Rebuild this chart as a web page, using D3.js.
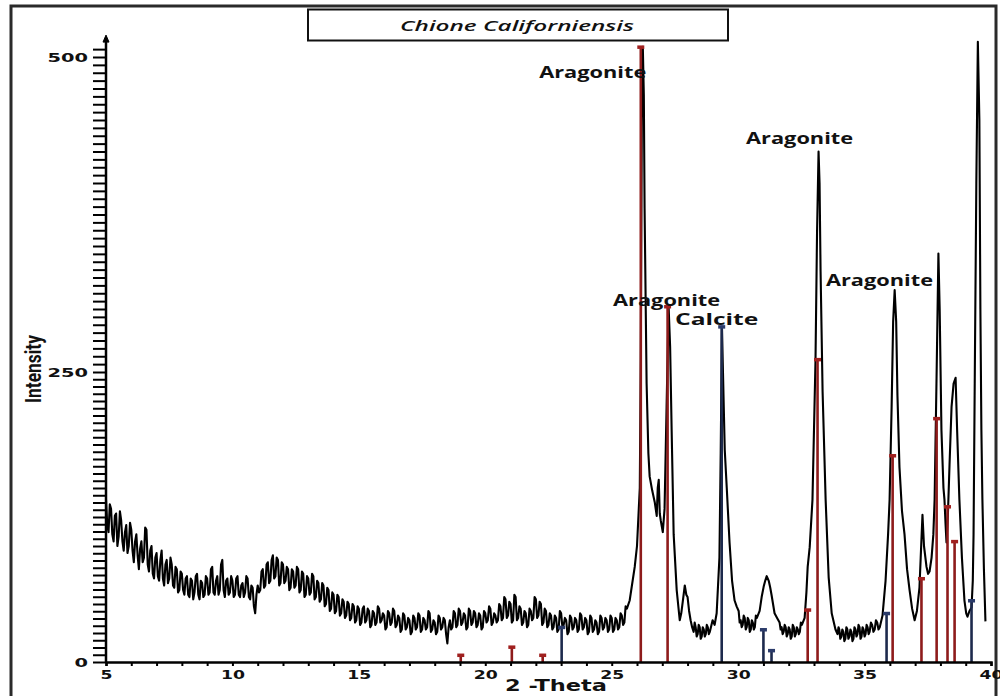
<!DOCTYPE html>
<html>
<head>
<meta charset="utf-8">
<script src="https://cdn.jsdelivr.net/npm/d3@7"></script>
<style>
  html, body { margin: 0; padding: 0; background: #fff; }
  svg { display: block; }
</style>
</head>
<body>
<svg id="chart" width="1000" height="696"></svg>
<script>
// ---------------- DATA ----------------
const chartTitle = "Chione Californiensis";
const xLabel = "2 -Theta";
const yLabel = "Intensity";
const xTickValues = [5, 10, 15, 20, 25, 30, 35, 40];
const yTickValues = [0, 250, 500];

// XRD scan: [2-theta, intensity]
const scan = [
  [5.0,140],[5.05,118],[5.1,112],[5.15,136],[5.2,132],[5.25,110],[5.3,104],[5.35,126],[5.4,128],[5.45,100],
  [5.5,108],[5.55,130],[5.6,122],[5.65,104],[5.7,96],[5.75,112],[5.8,118],[5.85,94],[5.9,100],[5.95,120],
  [6.0,114],[6.05,96],[6.1,86],[6.15,104],[6.2,110],[6.25,92],[6.3,80],[6.35,98],[6.4,104],[6.45,86],
  [6.5,90],[6.55,116],[6.6,114],[6.65,84],[6.7,78],[6.75,96],[6.8,100],[6.85,76],[6.9,72],[6.95,90],
  [7.0,94],[7.05,74],[7.1,70],[7.15,88],[7.2,96],[7.25,72],[7.3,66],[7.35,84],[7.4,88],[7.45,68],
  [7.5,72],[7.55,90],[7.6,84],[7.65,66],[7.7,64],[7.75,82],[7.8,80],[7.85,60],[7.9,62],[7.95,78],
  [8.0,76],[8.05,62],[8.1,58],[8.15,72],[8.2,74],[8.25,58],[8.3,56],[8.35,72],[8.4,70],[8.45,54],
  [8.5,60],[8.55,74],[8.6,76],[8.65,58],[8.7,54],[8.75,70],[8.8,68],[8.85,56],[8.9,58],[8.95,74],
  [9.0,72],[9.05,58],[9.1,60],[9.15,80],[9.2,82],[9.25,60],[9.3,58],[9.35,70],[9.4,74],[9.45,58],
  [9.5,62],[9.55,84],[9.6,88],[9.65,62],[9.7,56],[9.75,70],[9.8,72],[9.85,58],[9.9,60],[9.95,74],
  [10.0,70],[10.05,56],[10.1,58],[10.15,72],[10.2,74],[10.25,58],[10.3,56],[10.35,66],[10.4,68],[10.45,56],
  [10.5,60],[10.55,74],[10.6,72],[10.65,56],[10.7,54],[10.75,66],[10.8,64],[10.85,48],[10.9,42],[10.95,58],
  [11.0,66],[11.05,60],[11.1,62],[11.15,78],[11.2,80],[11.25,64],[11.3,66],[11.35,84],[11.4,86],[11.45,68],
  [11.5,70],[11.55,88],[11.6,92],[11.65,72],[11.7,74],[11.75,90],[11.8,88],[11.85,66],[11.9,68],[11.95,86],
  [12.0,84],[12.05,68],[12.1,70],[12.15,82],[12.2,80],[12.25,62],[12.3,64],[12.35,80],[12.4,78],[12.45,64],
  [12.5,66],[12.55,82],[12.6,80],[12.65,60],[12.7,62],[12.75,78],[12.8,76],[12.85,56],[12.9,58],[12.95,74],
  [13.0,72],[13.05,58],[13.1,60],[13.15,76],[13.2,74],[13.25,54],[13.3,56],[13.35,70],[13.4,68],[13.45,52],
  [13.5,54],[13.55,68],[13.6,66],[13.65,48],[13.7,50],[13.75,64],[13.8,62],[13.85,44],[13.9,46],[13.95,60],
  [14.0,58],[14.05,42],[14.1,44],[14.15,58],[14.2,56],[14.25,40],[14.3,42],[14.35,54],[14.4,52],[14.45,38],
  [14.5,40],[14.55,52],[14.6,50],[14.65,36],[14.7,38],[14.75,50],[14.8,48],[14.85,34],[14.9,36],[14.95,48],
  [15.0,46],[15.05,32],[15.1,34],[15.15,46],[15.2,48],[15.25,34],[15.3,36],[15.35,46],[15.4,44],[15.45,30],
  [15.5,32],[15.55,44],[15.6,42],[15.65,32],[15.7,34],[15.75,48],[15.8,46],[15.85,34],[15.9,36],[15.95,42],
  [16.0,40],[16.05,28],[16.1,30],[16.15,44],[16.2,42],[16.25,32],[16.3,34],[16.35,46],[16.4,44],[16.45,30],
  [16.5,32],[16.55,40],[16.6,38],[16.65,26],[16.7,28],[16.75,42],[16.8,40],[16.85,28],[16.9,30],[16.95,38],
  [17.0,36],[17.05,24],[17.1,26],[17.15,40],[17.2,38],[17.25,28],[17.3,30],[17.35,42],[17.4,40],[17.45,26],
  [17.5,28],[17.55,38],[17.6,36],[17.65,28],[17.7,30],[17.75,44],[17.8,42],[17.85,26],[17.9,28],[17.95,36],
  [18.0,34],[18.05,24],[18.1,26],[18.15,40],[18.2,38],[18.25,28],[18.3,30],[18.35,38],[18.4,36],[18.45,24],
  [18.5,16],[18.55,30],[18.6,36],[18.65,28],[18.7,30],[18.75,44],[18.8,42],[18.85,30],[18.9,32],[18.95,46],
  [19.0,44],[19.05,32],[19.1,34],[19.15,42],[19.2,40],[19.25,28],[19.3,30],[19.35,46],[19.4,44],[19.45,32],
  [19.5,34],[19.55,44],[19.6,42],[19.65,30],[19.7,32],[19.75,42],[19.8,40],[19.85,28],[19.9,30],[19.95,44],
  [20.0,42],[20.05,34],[20.1,36],[20.15,48],[20.2,46],[20.25,32],[20.3,34],[20.35,42],[20.4,40],[20.45,34],
  [20.5,36],[20.55,50],[20.6,48],[20.65,36],[20.7,38],[20.75,56],[20.8,54],[20.85,38],[20.9,40],[20.95,52],
  [21.0,50],[21.05,34],[21.1,36],[21.15,58],[21.2,56],[21.25,36],[21.3,38],[21.35,48],[21.4,46],[21.45,32],
  [21.5,34],[21.55,44],[21.6,42],[21.65,30],[21.7,32],[21.75,46],[21.8,44],[21.85,36],[21.9,38],[21.95,56],
  [22.0,54],[22.05,38],[22.1,40],[22.15,52],[22.2,50],[22.25,32],[22.3,34],[22.35,46],[22.4,44],[22.45,30],
  [22.5,32],[22.55,42],[22.6,40],[22.65,28],[22.7,30],[22.75,40],[22.8,38],[22.85,26],[22.9,28],[22.95,44],
  [23.0,42],[23.05,30],[23.1,32],[23.15,38],[23.2,36],[23.25,24],[23.3,26],[23.35,40],[23.4,38],[23.45,28],
  [23.5,30],[23.55,38],[23.6,36],[23.65,26],[23.7,28],[23.75,42],[23.8,40],[23.85,28],[23.9,30],[23.95,38],
  [24.0,36],[24.05,24],[24.1,26],[24.15,40],[24.2,38],[24.25,26],[24.3,28],[24.35,36],[24.4,34],[24.45,24],
  [24.5,26],[24.55,40],[24.6,38],[24.65,28],[24.7,30],[24.75,38],[24.8,36],[24.85,26],[24.9,28],[24.95,40],
  [25.0,38],[25.05,26],[25.1,28],[25.15,38],[25.2,36],[25.25,28],[25.3,30],[25.35,42],[25.4,40],[25.45,32],
  [25.5,34],[25.55,48],[25.6,46],[25.71,53],[25.91,82],[26.0,100],
  [26.11,150],[26.15,260],[26.19,450],[26.23,508],[26.27,470],[26.30,380],[26.38,240],[26.45,180],
  [26.50,160],[26.60,148],[26.70,138],[26.78,126],[26.82,150],[26.86,157],[26.90,128],[26.94,122],
  [27.02,112],[27.09,132],[27.17,220],[27.25,302],[27.31,270],[27.37,200],[27.45,110],[27.57,62],
  [27.69,36],[27.75,42],[27.81,52],[27.89,66],[27.95,58],[28.00,56],[28.06,44],[28.12,36],[28.18,30],
  [28.24,26],[28.28,34],[28.32,30],[28.36,22],[28.40,24],[28.44,32],[28.48,30],[28.52,20],[28.56,22],
  [28.60,30],[28.64,28],[28.68,22],[28.72,24],[28.76,32],[28.80,30],[28.84,24],[28.88,26],
  [28.99,36],[29.07,32],[29.15,42],[29.26,90],[29.31,180],[29.36,286],[29.40,250],[29.47,183],
  [29.55,150],[29.62,120],[29.66,103],[29.76,70],[29.86,53],[29.94,48],[30.02,44],[30.06,34],[30.10,36],
  [30.14,30],[30.18,32],[30.22,40],[30.26,38],[30.30,28],[30.34,30],[30.38,38],[30.42,36],[30.46,26],
  [30.50,28],[30.54,36],[30.58,34],[30.62,28],[30.66,30],[30.70,40],[30.74,38],[30.85,44],[30.93,56],
  [31.01,65],[31.07,70],[31.13,74],[31.21,70],[31.27,64],[31.32,58],[31.38,50],[31.44,42],[31.54,38],
  [31.64,34],[31.68,28],[31.72,30],[31.76,24],[31.80,26],[31.84,32],[31.88,30],[31.92,22],[31.96,24],
  [32.00,30],[32.04,28],[32.08,20],[32.12,22],[32.16,32],[32.20,30],[32.24,22],[32.28,24],[32.32,30],
  [32.36,28],[32.40,24],[32.44,26],[32.48,34],[32.52,32],[32.63,38],[32.70,60],[32.75,82],[32.83,99],
  [32.94,140],[33.06,260],[33.12,360],[33.18,425],[33.22,400],[33.26,330],[33.34,233],[33.46,140],
  [33.58,73],[33.70,42],[33.85,28],[33.93,24],[33.97,30],[34.00,28],[34.04,20],[34.08,22],[34.12,28],
  [34.16,26],[34.20,18],[34.24,20],[34.28,30],[34.32,28],[34.36,20],[34.40,22],[34.44,28],[34.48,26],
  [34.52,18],[34.56,20],[34.60,30],[34.64,28],[34.68,22],[34.72,24],[34.76,32],[34.80,30],[34.84,20],
  [34.88,22],[34.92,30],[34.96,28],[35.00,22],[35.04,24],[35.08,32],[35.12,30],[35.16,24],[35.20,26],
  [35.25,34],[35.30,32],[35.35,26],[35.40,28],[35.45,36],[35.50,34],[35.55,28],[35.60,30],[35.71,40],
  [35.83,70],[35.93,110],[35.99,140],[36.07,220],
  [36.13,290],[36.19,315],[36.25,290],[36.30,230],[36.38,168],[36.48,130],[36.58,110],[36.68,80],
  [36.78,62],[36.88,46],[36.98,36],[37.07,44],[37.12,54],[37.17,64],[37.22,90],[37.29,127],[37.35,100],
  [37.45,82],[37.51,76],[37.57,78],[37.65,90],[37.72,110],[37.77,140],[37.85,250],[37.92,344],
  [37.97,300],[38.04,200],[38.12,150],[38.16,140],[38.20,120],[38.24,103],[38.30,130],[38.36,170],
  [38.44,220],[38.52,240],[38.60,245],[38.66,200],[38.75,140],[38.85,90],[38.95,53],[39.02,42],
  [39.07,39],[39.15,44],[39.23,47],[39.28,70],[39.31,110],[39.36,250],[39.42,400],[39.48,512],
  [39.54,450],[39.58,300],[39.62,200],[39.66,140],[39.72,80],[39.78,35]
];

// Reference pattern sticks: [2-theta, intensity]
const aragoniteSticks = [
  [19.03,6],[21.05,13],[22.27,6],[26.15,508],[27.21,302],[32.75,45],[33.14,260],
  [36.11,178],[37.25,72],[37.85,210],[38.28,134],[38.56,104]
];
const calciteSticks = [
  [23.02,30],[29.35,286],[31.0,28],[31.32,10],[35.87,42],[39.23,53]
];

// Phase labels: [text, 2-theta, intensity]
const phaseLabels = [
  ["Aragonite", 24.25, 483],
  ["Aragonite", 32.43, 431],
  ["Aragonite", 27.17, 302],
  ["Calcite", 29.15, 287],
  ["Aragonite", 35.59, 318]
];

// ---------------- DRAW ----------------
const svg = d3.select("#chart");

const x = d3.scaleLinear().domain([5, 40]).range([106, 991]);
const y = d3.scaleLinear().domain([0, 250, 500]).range([662, 372, 57]);

// outer frame
svg.append("rect")
  .attr("x", 11).attr("y", 6).attr("width", 985).attr("height", 720)
  .attr("fill", "none").attr("stroke", "#2a2a2a").attr("stroke-width", 3);

// title box
svg.append("rect")
  .attr("x", 308).attr("y", 9.5).attr("width", 420).attr("height", 31)
  .attr("fill", "#fff").attr("stroke", "#111").attr("stroke-width", 2);
svg.append("text")
  .attr("x", 517).attr("y", 31)
  .attr("text-anchor", "middle")
  .attr("font-family", "'Open Sans', sans-serif")
  .attr("font-style", "italic")
  .attr("font-weight", 600)
  .attr("font-size", 15)
  .attr("textLength", 234).attr("lengthAdjust", "spacingAndGlyphs")
  .attr("fill", "#111")
  .text(chartTitle);

// trace
const line = d3.line().x(d => x(d[0])).y(d => y(d[1]));
svg.append("path")
  .datum(scan)
  .attr("d", line)
  .attr("fill", "none")
  .attr("stroke", "#000")
  .attr("stroke-width", 2.1)
  .attr("stroke-linejoin", "round");

// sticks
function drawSticks(data, color, capColor) {
  const g = svg.append("g");
  g.selectAll("line").data(data).join("line")
    .attr("x1", d => x(d[0])).attr("x2", d => x(d[0]))
    .attr("y1", y(0)).attr("y2", d => y(d[1]))
    .attr("stroke", color).attr("stroke-width", 2.6);
  g.selectAll("rect").data(data).join("rect")
    .attr("x", d => x(d[0]) - 3.5).attr("y", d => y(d[1]) - 1.5)
    .attr("width", 7).attr("height", 3.5)
    .attr("fill", capColor);
}
drawSticks(aragoniteSticks, "#8e1b1b", "#a0201f");
drawSticks(calciteSticks, "#1d2a4d", "#2b3b6a");

// axes
const xAxis = d3.axisBottom(x)
  .tickValues(d3.range(5, 41, 1))
  .tickSize(4)
  .tickFormat(d => xTickValues.includes(d) ? d : "");
const gx = svg.append("g").attr("transform", `translate(0,${y(0)})`).call(xAxis);
gx.select(".domain").attr("stroke", "#000").attr("stroke-width", 2.5);
gx.selectAll(".tick line").attr("stroke", "#000").attr("stroke-width", 2);
gx.selectAll(".tick text")
  .attr("y", 8)
  .attr("font-family", "'DejaVu Sans', sans-serif")
  .attr("font-weight", "bold")
  .attr("font-size", 12)
  .attr("fill", "#111")
  .each(function(d) {
    const s = String(d);
    if (xTickValues.includes(d)) d3.select(this).attr("textLength", s.length * 12).attr("lengthAdjust", "spacingAndGlyphs");
  });

const yAxis = d3.axisLeft(y)
  .tickValues(d3.range(0, 512, 6.25))
  .tickSize(13)
  .tickFormat(d => yTickValues.includes(d) ? d : "");
const gy = svg.append("g").attr("transform", `translate(${x(5)},0)`).call(yAxis);
gy.select(".domain").attr("stroke", "#000").attr("stroke-width", 2.5)
  .attr("d", `M0,${y(0)}V${y(515)}`);
gy.selectAll(".tick line").attr("stroke", "#000").attr("stroke-width", 2);
gy.selectAll(".tick text")
  .attr("x", -18)
  .attr("font-family", "'DejaVu Sans', sans-serif")
  .attr("font-weight", "bold")
  .attr("font-size", 13)
  .attr("fill", "#111")
  .each(function(d) {
    const s = String(d);
    if (yTickValues.includes(d)) d3.select(this).attr("textLength", s.length * 13.5).attr("lengthAdjust", "spacingAndGlyphs");
  });
// y axis arrow
svg.append("path")
  .attr("d", `M${x(5) - 3},${y(515) + 4}L${x(5)},${y(515) - 3}L${x(5) + 3},${y(515) + 4}Z`)
  .attr("fill", "#000").attr("stroke", "#000");

// axis titles
svg.append("text")
  .attr("x", 556).attr("y", 691)
  .attr("text-anchor", "middle")
  .attr("font-family", "'DejaVu Sans', sans-serif")
  .attr("font-weight", "bold")
  .attr("font-size", 15)
  .attr("textLength", 102).attr("lengthAdjust", "spacingAndGlyphs")
  .attr("fill", "#111")
  .text(xLabel);

svg.append("text")
  .attr("transform", "translate(41,369) rotate(-90)")
  .attr("text-anchor", "middle")
  .attr("font-family", "'Liberation Sans Narrow', 'Roboto', sans-serif")
  .attr("font-weight", "bold")
  .attr("font-size", 22)
  .attr("textLength", 68).attr("lengthAdjust", "spacingAndGlyphs")
  .attr("fill", "#111")
  .text(yLabel);

// phase labels
svg.append("g").selectAll("text").data(phaseLabels).join("text")
  .attr("x", d => x(d[1])).attr("y", d => y(d[2]))
  .attr("text-anchor", "middle")
  .attr("font-family", "'Open Sans', sans-serif")
  .attr("font-weight", "bold")
  .attr("font-size", 16)
  .attr("textLength", d => d[0].length * 11.9)
  .attr("lengthAdjust", "spacingAndGlyphs")
  .attr("fill", "#111")
  .text(d => d[0]);
</script>
</body>
</html>
